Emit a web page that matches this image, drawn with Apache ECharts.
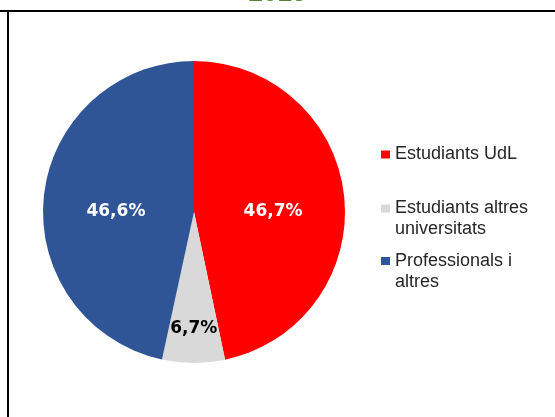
<!DOCTYPE html>
<html>
<head>
<meta charset="utf-8">
<script src="https://cdn.jsdelivr.net/npm/echarts@6/dist/echarts.min.js"></script>
<style>
html,body{margin:0;padding:0;background:#fff;}
#chart{width:555px;height:417px;}
</style>
</head>
<body>
<div id="chart"></div>
<script>
// ---- data ----
const titleText = '2015';
const categories = ['Estudiants UdL', 'Estudiants altres universitats', 'Professionals i altres'];
const values = [46.7, 6.7, 46.6];
const legendLabels = ['Estudiants UdL', 'Estudiants altres\nuniversitats', 'Professionals i\naltres'];

// ---- styles ----
const colors = ['#FF0000', '#D9D9D9', '#2F5597'];
const labelColors = ['#FFFFFF', '#000000', '#FFFFFF'];
const labelShift = [[1, 8], [0, 38], [0, 8]];
const legendTops = [144, 177, 229.5];

const chart = echarts.init(document.getElementById('chart'), null, {renderer: 'canvas'});

const legends = categories.map((name, i) => ({
  orient: 'vertical',
  left: 381,
  top: legendTops[i],
  padding: 0,
  itemWidth: 9,
  itemHeight: 8,
  icon: 'rect',
  selectedMode: false,
  data: [{name: name}],
  formatter: () => (legendLabels[i].indexOf('\n') >= 0 ? ' \n' : '') + legendLabels[i],
  textStyle: {
    fontFamily: 'Liberation Sans',
    fontSize: 18,
    lineHeight: 21,
    color: '#262626'
  }
}));

const option = {
  animation: false,
  title: {
    text: titleText,
    left: 'center',
    top: -19,
    padding: 0,
    textStyle: {fontFamily: 'Liberation Sans', fontSize: 26, fontWeight: 'bold', color: '#548235'}
  },
  legend: legends,
  graphic: [
    {type: 'line', shape: {x1: 0, y1: 11, x2: 555, y2: 11}, style: {stroke: '#000', lineWidth: 2}},
    {type: 'line', shape: {x1: 8, y1: 10, x2: 8, y2: 417}, style: {stroke: '#000', lineWidth: 2}}
  ],
  series: [{
    type: 'pie',
    center: [194, 212],
    radius: 151,
    startAngle: 90,
    clockwise: true,
    avoidLabelOverlap: false,
    itemStyle: {borderWidth: 0},
    label: {
      show: true,
      position: 'inner',
      fontFamily: 'DejaVu Sans',
      fontWeight: 'bold',
      fontSize: 17,
      formatter: p => p.value.toFixed(1).replace('.', ',') + '%'
    },
    labelLine: {show: false},
    labelLayout: p => ({dx: labelShift[p.dataIndex][0], dy: labelShift[p.dataIndex][1]}),
    emphasis: {disabled: true},
    data: categories.map((name, i) => ({
      name: name,
      value: values[i],
      itemStyle: {color: colors[i]},
      label: {color: labelColors[i]}
    }))
  }]
};
chart.setOption(option);
</script>
</body>
</html>
